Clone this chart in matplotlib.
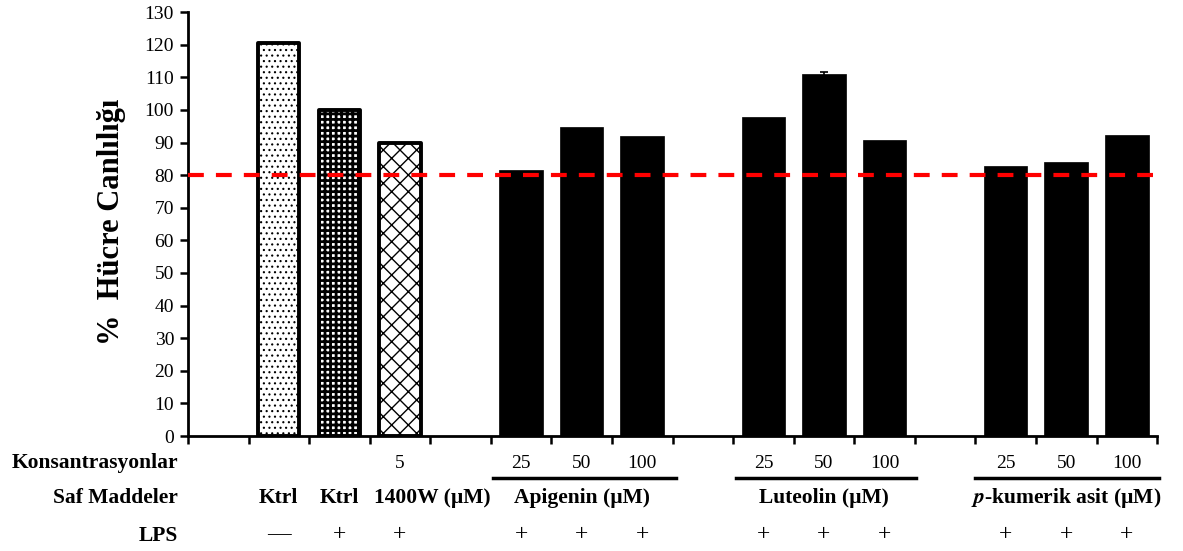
import numpy as np
import matplotlib
matplotlib.use("Agg")
import matplotlib.pyplot as plt
from matplotlib.transforms import blended_transform_factory

plt.rcParams['font.family'] = ['Liberation Serif', 'DejaVu Serif']
plt.rcParams['mathtext.fontset'] = 'stix'

# 16 slots along x, empty ones are spacers between groups
slot_values = [np.nan, 120.5, 100.0, 90.0, np.nan, 81.5, 94.7, 92.0,
               np.nan, 97.8, 111.0, 90.7, np.nan, 82.8, 84.0, 92.3]
slot_err = [0, 0, 0, 0, 0, 0, 0, 0, 0, 0, 0.5, 0, 0, 0, 0, 0]
hatches = [None, '...', '+++', 'xx']
hatch_lw = [None, 0.8, 2.0, 1.0]

conc_labels = {3: '5', 5: '25', 6: '50', 7: '100', 9: '25', 10: '50', 11: '100',
               13: '25', 14: '50', 15: '100'}
lps_labels = {1: '—', 2: '+', 3: '+', 5: '+', 6: '+', 7: '+', 9: '+', 10: '+',
              11: '+', 13: '+', 14: '+', 15: '+'}
subst_labels = [(1, 'Ktrl'), (2, 'Ktrl'), (3.53, '1400W (µM)'), (6, 'Apigenin (µM)'),
                (10, 'Luteolin (µM)'), (14, '$\\mathbfit{p}$-kumerik asit (µM)')]
group_spans = [(4.54, 7.55), (8.54, 11.52), (12.5, 15.53)]
threshold = 80

fig = plt.figure(figsize=(11.83, 5.51), dpi=100)
ax = fig.add_axes([0.1589, 0.2087, 0.9781 - 0.1589, 0.978 - 0.2087])

for i, v in enumerate(slot_values):
    if np.isnan(v):
        continue
    if i <= 3:
        with plt.rc_context({'hatch.linewidth': hatch_lw[i]}):
            bars = ax.bar(i, v, width=0.68, facecolor='white', edgecolor='black',
                          linewidth=2.8, hatch=hatches[i], joinstyle='round', zorder=2)
        for b in bars:
            if hasattr(b, 'set_hatch_linewidth'):
                b.set_hatch_linewidth(hatch_lw[i])
    else:
        ax.bar(i, v, width=0.72, color='black', edgecolor='black', linewidth=0.5, zorder=2)
        if slot_err[i] > 0:
            ax.errorbar(i, v, yerr=slot_err[i], color='black', capsize=3,
                        elinewidth=1.2, capthick=1.2, zorder=3)

ax.axhline(threshold, color='#ff0000', linewidth=3, dashes=(3.8, 2.9), zorder=4)

ax.set_xlim(-0.5, 15.5)
ax.set_ylim(0, 130)
ax.set_yticks(np.arange(0, 131, 10))
ax.set_xticks(np.arange(-0.5, 15.6, 1))
ax.set_xticklabels([])
ax.tick_params(axis='both', direction='out', length=6, width=1.8, labelsize=14)
ax.tick_params(axis='y', pad=4)
for s in ['top', 'right']:
    ax.spines[s].set_visible(False)
for s in ['left', 'bottom']:
    ax.spines[s].set_linewidth(2)

fig.text(112 / 1183, 1 - 222 / 551, '%  Hücre Canlılığı', rotation=90,
         ha='center', va='center', fontsize=22, fontweight='bold')

tr = blended_transform_factory(ax.transData, fig.transFigure)
conc_base = 1 - 468 / 551
subst_base = 1 - 503 / 551
lps_base = 1 - 541 / 551
lps_mid = 1 - 535 / 551

for yb, name in [(conc_base, 'Konsantrasyonlar'), (subst_base, 'Saf Maddeler'),
                 (lps_base, 'LPS')]:
    fig.text(178 / 1183, yb, name, ha='right', va='baseline',
             fontsize=15.5, fontweight='bold')

for i, t in conc_labels.items():
    ax.text(i, conc_base, t, transform=tr, ha='center', va='baseline', fontsize=14)
for xpos, t in subst_labels:
    ax.text(xpos, subst_base, t, transform=tr, ha='center', va='baseline',
            fontsize=15.5, fontweight='bold')
for i, t in lps_labels.items():
    ax.text(i, lps_mid, t, transform=tr, ha='center', va='center', fontsize=17)

line_y = 1 - 478 / 551
for a, b in group_spans:
    ax.plot([a, b], [line_y, line_y], transform=tr, color='black',
            linewidth=2.5, clip_on=False)

fig.savefig('out.png', dpi=100)
